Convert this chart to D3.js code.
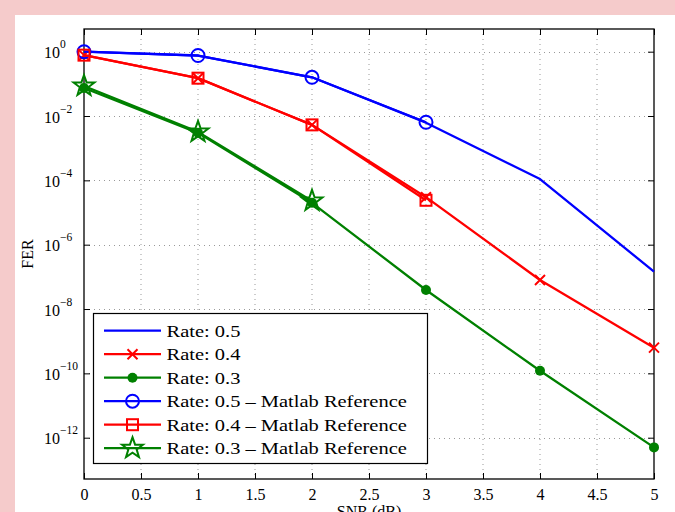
<!DOCTYPE html>
<html>
<head>
<meta charset="utf-8">
<script src="https://cdn.jsdelivr.net/npm/d3@7"></script>
<style>
  html, body { margin: 0; padding: 0; background: #f5cbcb; }
  svg { display: block; }
  text { font-family: "Liberation Serif", "Times New Roman", serif; fill: #000; }
</style>
</head>
<body>
<svg id="chart" width="675" height="512"></svg>
<script>
// ---- data ----
const snr = [0, 1, 2, 3, 4, 5];
const rate05 = [1.0, 0.75, 0.16, 6.2e-3, 1.1e-4, 1.45e-7];
const rate04 = [0.78, 0.15, 5.3e-3, 3.0e-5, 8.0e-8, 6.3e-10];
const rate03 = [0.074, 3.0e-3, 2.0e-5, 3.9e-8, 1.2e-10, 5.0e-13];
const snrRef05 = [0, 1, 2, 3];
const ref05 = [1.0, 0.76, 0.16, 6.4e-3];
const snrRef04 = [0, 1, 2, 3];
const ref04 = [0.78, 0.15, 5.3e-3, 2.4e-5];
const snrRef03 = [0, 1, 2];
const ref03 = [0.086, 3.2e-3, 2.3e-5];

const xTicks = [0, 0.5, 1, 1.5, 2, 2.5, 3, 3.5, 4, 4.5, 5];
const xTickLabels = ["0", "0.5", "1", "1.5", "2", "2.5", "3", "3.5", "4", "4.5", "5"];
const yTickExps = [0, -2, -4, -6, -8, -10, -12];
const legendLabels = ["Rate: 0.5", "Rate: 0.4", "Rate: 0.3",
  "Rate: 0.5 \u2013 Matlab Reference", "Rate: 0.4 \u2013 Matlab Reference", "Rate: 0.3 \u2013 Matlab Reference"];
const xLabel = "SNR (dB)";
const yLabel = "FER";

// ---- layout ----
const svg = d3.select("#chart");
svg.append("rect").attr("x", 15).attr("y", 15).attr("width", 660).attr("height", 497).attr("fill", "#fff");

const L = 84, R = 654, T = 29, B = 479;
const x = d3.scaleLinear().domain([0, 5]).range([L, R]);
const y = d3.scaleLog().domain([Math.pow(10, -13.284), Math.pow(10, 0.705)]).range([B, T]);

// grid
const grid = svg.append("g").attr("stroke", "#999").attr("stroke-width", 1).attr("stroke-dasharray", "1,4");
xTicks.forEach(t => {
  if (t === 0 || t === 5) return;
  grid.append("line").attr("x1", x(t)).attr("x2", x(t)).attr("y1", T).attr("y2", B);
});
yTickExps.forEach(e => {
  const yy = Math.round(y(Math.pow(10, e))) + 0.5;
  grid.append("line").attr("x1", L).attr("x2", R).attr("y1", yy).attr("y2", yy);
});

// axes via d3 axes (ticks inward)
const xAxisB = d3.axisBottom(x).tickValues(xTicks).tickSizeInner(-6).tickSizeOuter(0).tickFormat((d, i) => xTickLabels[i]);
const gxb = svg.append("g").attr("transform", `translate(0,${B})`).call(xAxisB);
gxb.select(".domain").remove();
gxb.selectAll("text").attr("font-size", 16).attr("dy", null).attr("y", 21).attr("font-family", "Liberation Serif");
gxb.selectAll("line").attr("stroke", "#000");

const xAxisT = d3.axisTop(x).tickValues(xTicks).tickSizeInner(-6).tickSizeOuter(0).tickFormat("");
const gxt = svg.append("g").attr("transform", `translate(0,${T})`).call(xAxisT);
gxt.select(".domain").remove();

const yVals = yTickExps.map(e => Math.pow(10, e));
const yAxisL = d3.axisLeft(y).tickValues(yVals).tickSizeInner(-6).tickSizeOuter(0).tickFormat("");
const gyl = svg.append("g").attr("transform", `translate(${L},0)`).call(yAxisL);
gyl.select(".domain").remove();
const yAxisR = d3.axisRight(y).tickValues(yVals).tickSizeInner(-6).tickSizeOuter(0).tickFormat("");
const gyr = svg.append("g").attr("transform", `translate(${R},0)`).call(yAxisR);
gyr.select(".domain").remove();

// y tick labels 10^e
yTickExps.forEach(e => {
  const t = svg.append("text").attr("x", 44).attr("y", y(Math.pow(10, e)) + 6.5).attr("font-size", 16);
  t.append("tspan").text("10");
  t.append("tspan").attr("dy", -10).attr("font-size", 11.5).text(e === 0 ? "0" : "\u2212" + Math.abs(e));
});

// box
svg.append("rect").attr("x", L).attr("y", T).attr("width", R - L).attr("height", B - T)
  .attr("fill", "none").attr("stroke", "#000").attr("stroke-width", 1.3);

// labels
svg.append("text").attr("x", (L + R) / 2).attr("y", 517).attr("text-anchor", "middle").attr("font-size", 16).text(xLabel);
svg.append("text").attr("transform", "translate(33,254) rotate(-90)").attr("text-anchor", "middle").attr("font-size", 16).text(yLabel);

// ---- series ----
const line = d3.line().x(d => x(d[0])).y(d => y(d[1]));
const zip = (xs, ys) => xs.map((v, i) => [v, ys[i]]);
const plot = svg.append("g");

function starPath(ro, ri) {
  const pts = [];
  for (let i = 0; i < 10; i++) {
    const r = i % 2 === 0 ? ro : ri;
    const a = -Math.PI / 2 + i * Math.PI / 5;
    pts.push([r * Math.cos(a), r * Math.sin(a)]);
  }
  return "M" + pts.map(p => p.join(",")).join("L") + "Z";
}

function drawMarker(g, type, cx, cy, color) {
  if (type === "x") {
    g.append("path").attr("d", `M${cx-5},${cy-5}L${cx+5},${cy+5}M${cx-5},${cy+5}L${cx+5},${cy-5}`)
      .attr("stroke", color).attr("stroke-width", 2).attr("fill", "none");
  } else if (type === "dot") {
    g.append("circle").attr("cx", cx).attr("cy", cy).attr("r", 5).attr("fill", color);
  } else if (type === "o") {
    g.append("circle").attr("cx", cx).attr("cy", cy).attr("r", 6.5).attr("fill", "none").attr("stroke", color).attr("stroke-width", 2);
  } else if (type === "s") {
    g.append("rect").attr("x", cx - 5.5).attr("y", cy - 5.5).attr("width", 11).attr("height", 11)
      .attr("fill", "none").attr("stroke", color).attr("stroke-width", 2);
  } else if (type === "star") {
    g.append("path").attr("d", starPath(11, 4.4)).attr("transform", `translate(${cx},${cy})`)
      .attr("fill", "none").attr("stroke", color).attr("stroke-width", 2).attr("stroke-linejoin", "miter");
  }
}

const series = [
  { xs: snr, ys: rate05, color: "#0000ff", marker: null, w: 2.3 },
  { xs: snr, ys: rate04, color: "#ff0000", marker: "x", w: 2.3 },
  { xs: snr, ys: rate03, color: "#008000", marker: "dot", w: 2.3 },
  { xs: snrRef05, ys: ref05, color: "#0000ff", marker: "o", w: 2.3 },
  { xs: snrRef04, ys: ref04, color: "#ff0000", marker: "s", w: 2.3 },
  { xs: snrRef03, ys: ref03, color: "#008000", marker: "star", w: 2.3 }
];

series.forEach(s => {
  const data = zip(s.xs, s.ys);
  plot.append("path").attr("d", line(data)).attr("fill", "none").attr("stroke", s.color)
    .attr("stroke-width", s.w).attr("stroke-linejoin", "round");
  if (s.marker) data.forEach(d => drawMarker(plot, s.marker, x(d[0]), y(d[1]), s.color));
});

// ---- legend ----
const lg = svg.append("g");
lg.append("rect").attr("x", 93.5).attr("y", 313.5).attr("width", 334).attr("height", 150)
  .attr("fill", "#fff").attr("stroke", "#000").attr("stroke-width", 1.2);
series.forEach((s, i) => {
  const yy = 330.7 + i * 23.5;
  lg.append("line").attr("x1", 104).attr("x2", 161).attr("y1", yy).attr("y2", yy)
    .attr("stroke", s.color).attr("stroke-width", s.w);
  if (s.marker) drawMarker(lg, s.marker, 132.5, yy, s.color);
  lg.append("text").attr("transform", `translate(166.5,${yy + 6}) scale(1.17,1)`)
    .attr("font-size", 17.5).text(legendLabels[i]);
});
</script>
</body>
</html>
